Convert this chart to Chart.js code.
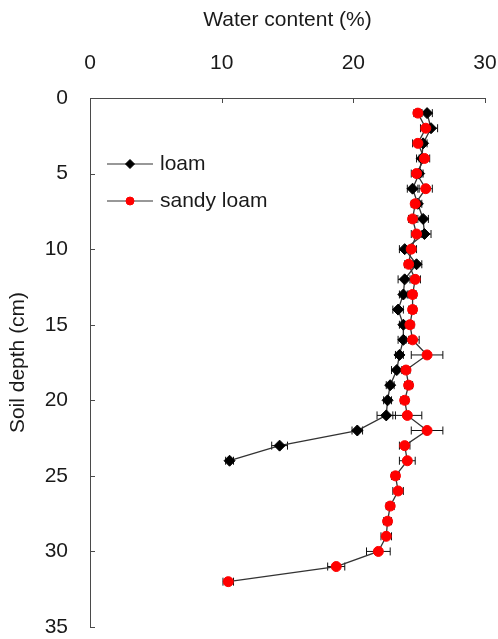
<!DOCTYPE html>
<html>
<head>
<meta charset="utf-8">
<script src="https://cdn.jsdelivr.net/npm/chart.js@4.4.0/dist/chart.umd.min.js"></script>
<style>
  html, body { margin: 0; padding: 0; background: #fff; overflow: hidden; }
  canvas { display: block; }
</style>
</head>
<body>
<canvas id="depthChart" width="498" height="639"></canvas>
<script>
// soil depth (cm) for each sampled layer
const loamDepth = [1, 2, 3, 4, 5, 6, 7, 8, 9, 10, 11, 12, 13, 14, 15, 16, 17, 18, 19, 20, 21, 22, 23, 24];
const loamWater = [25.6, 25.9, 25.3, 25.2, 25.0, 24.5, 24.9, 25.3, 25.4, 23.9, 24.8, 23.9, 23.8, 23.4, 23.8, 23.8, 23.5, 23.3, 22.8, 22.6, 22.5, 20.3, 14.4, 10.6];
const loamErr = [0.4, 0.5, 0.3, 0.4, 0.3, 0.4, 0.3, 0.4, 0.5, 0.4, 0.4, 0.5, 0.3, 0.4, 0.3, 0.4, 0.3, 0.4, 0.3, 0.3, 0.7, 0.4, 0.6, 0.3];

const sandyDepth = [1, 2, 3, 4, 5, 6, 7, 8, 9, 10, 11, 12, 13, 14, 15, 16, 17, 18, 19, 20, 21, 22, 23, 24, 25, 26, 27, 28, 29, 30, 31, 32];
const sandyWater = [24.9, 25.5, 24.9, 25.4, 24.8, 25.5, 24.7, 24.5, 24.8, 24.4, 24.2, 24.7, 24.5, 24.5, 24.3, 24.5, 25.6, 24.0, 24.2, 23.9, 24.1, 25.6, 23.9, 24.1, 23.2, 23.4, 22.8, 22.6, 22.5, 21.9, 18.7, 10.5];
const sandyErr = [0.3, 0.4, 0.4, 0.4, 0.4, 0.5, 0.3, 0.3, 0.4, 0.4, 0.3, 0.4, 0.3, 0.3, 0.3, 0.5, 1.2, 0.3, 0.3, 0.3, 1.1, 1.2, 0.4, 0.6, 0.3, 0.4, 0.3, 0.3, 0.4, 0.9, 0.65, 0.4];

const xTicks = [0, 10, 20, 30];
const yTicks = [0, 5, 10, 15, 20, 25, 30, 35];

const FONT = "'Liberation Sans', Arial, sans-serif";
const FONT_SIZE = 21;
const TEXT_COLOR = '#1a1a1a';
const AXIS_COLOR = '#4a4a4a';

function toPoints(xs, ys, errs) {
  return xs.map((x, i) => ({ x: x, y: ys[i], err: errs[i] }));
}

// horizontal error bars, drawn under the markers
const errorBars = {
  id: 'errorBars',
  beforeDatasetDraw(chart, args) {
    const meta = chart.getDatasetMeta(args.index);
    const ds = chart.data.datasets[args.index];
    const xs = chart.scales.x;
    const ctx = chart.ctx;
    ctx.save();
    ctx.strokeStyle = '#111';
    ctx.lineWidth = 1;
    meta.data.forEach((pt, i) => {
      const p = ds.data[i];
      const x1 = xs.getPixelForValue(p.x - p.err);
      const x2 = xs.getPixelForValue(p.x + p.err);
      const y = pt.y;
      ctx.beginPath();
      ctx.moveTo(x1, y); ctx.lineTo(x2, y);
      ctx.moveTo(x1, y - 4); ctx.lineTo(x1, y + 4);
      ctx.moveTo(x2, y - 4); ctx.lineTo(x2, y + 4);
      ctx.stroke();
    });
    ctx.restore();
  }
};

// tick marks point into the plot, plus the legend in the upper left
const extras = {
  id: 'extras',
  afterDraw(chart) {
    const ctx = chart.ctx;
    const xs = chart.scales.x, ys = chart.scales.y;
    const area = chart.chartArea;
    ctx.save();
    ctx.strokeStyle = AXIS_COLOR;
    ctx.lineWidth = 1;
    ctx.beginPath();
    xTicks.forEach(v => {
      if (v === 0) return;
      const px = Math.round(xs.getPixelForValue(v)) + 0.5;
      ctx.moveTo(px, area.top); ctx.lineTo(px, area.top + 5);
    });
    yTicks.forEach(v => {
      if (v === 0) return;
      const py = Math.round(ys.getPixelForValue(v)) + 0.5;
      ctx.moveTo(area.left, py); ctx.lineTo(area.left + 5, py);
    });
    ctx.stroke();

    // legend
    const items = [
      { label: 'loam', ds: chart.data.datasets[0], dy: 66 },
      { label: 'sandy loam', ds: chart.data.datasets[1], dy: 103 }
    ];
    items.forEach(it => {
      const y = area.top + it.dy;
      const x0 = area.left + 17, x1 = area.left + 63;
      ctx.strokeStyle = '#333';
      ctx.lineWidth = 1.2;
      ctx.beginPath();
      ctx.moveTo(x0, y); ctx.lineTo(x1, y);
      ctx.stroke();
      ctx.fillStyle = it.ds.pointBackgroundColor;
      ctx.strokeStyle = it.ds.pointBorderColor;
      ctx.lineWidth = 1;
      Chart.helpers.drawPoint(ctx, {
        pointStyle: it.ds.pointStyle,
        radius: it.ds.pointRadius - 1,
        borderWidth: 1
      }, (x0 + x1) / 2, y);
      ctx.fillStyle = TEXT_COLOR;
      ctx.font = FONT_SIZE + 'px ' + FONT;
      ctx.textBaseline = 'middle';
      ctx.textAlign = 'left';
      ctx.fillText(it.label, x1 + 7, y);
    });
    ctx.restore();
  }
};

new Chart(document.getElementById('depthChart'), {
  type: 'scatter',
  data: {
    datasets: [
      {
        label: 'loam',
        data: toPoints(loamWater, loamDepth, loamErr),
        showLine: true,
        borderColor: '#333',
        borderWidth: 1.3,
        pointStyle: 'rectRot',
        pointRadius: 5.5,
        pointBackgroundColor: '#000',
        pointBorderColor: '#000',
        pointBorderWidth: 1,
        order: 1
      },
      {
        label: 'sandy loam',
        data: toPoints(sandyWater, sandyDepth, sandyErr),
        showLine: true,
        borderColor: '#333',
        borderWidth: 1.3,
        pointStyle: 'circle',
        pointRadius: 5,
        pointBackgroundColor: '#ff0000',
        pointBorderColor: '#ff0000',
        pointBorderWidth: 1,
        order: 0
      }
    ]
  },
  options: {
    responsive: false,
    animation: false,
    layout: { padding: { top: 0, right: 13, bottom: 12, left: 0 } },
    plugins: {
      legend: { display: false },
      tooltip: { enabled: false }
    },
    scales: {
      x: {
        type: 'linear',
        position: 'top',
        min: 0,
        max: 30,
        afterBuildTicks: (axis) => { axis.ticks = xTicks.map(v => ({ value: v })); },
        afterFit: (axis) => {
          axis.height = 98;
          axis.paddingLeft = 0;
          axis.paddingRight = 0;
        },
        grid: { display: true, drawOnChartArea: false, drawTicks: false },
        border: { display: true, color: AXIS_COLOR, width: 1 },
        ticks: { color: TEXT_COLOR, font: { family: FONT, size: FONT_SIZE }, padding: 22 },
        title: {
          display: true,
          text: 'Water content (%)',
          color: TEXT_COLOR,
          font: { family: FONT, size: FONT_SIZE },
          padding: { top: 8, bottom: 0 }
        }
      },
      y: {
        type: 'linear',
        reverse: true,
        min: 0,
        max: 35,
        afterBuildTicks: (axis) => { axis.ticks = yTicks.map(v => ({ value: v })); },
        afterFit: (axis) => {
          axis.width = 90;
          axis.paddingTop = 0;
          axis.paddingBottom = 0;
        },
        grid: { display: true, drawOnChartArea: false, drawTicks: false },
        border: { display: true, color: AXIS_COLOR, width: 1 },
        ticks: { color: TEXT_COLOR, font: { family: FONT, size: FONT_SIZE }, padding: 22 },
        title: {
          display: true,
          text: 'Soil depth (cm)',
          color: TEXT_COLOR,
          font: { family: FONT, size: FONT_SIZE },
          padding: { top: 6, bottom: 0 }
        }
      }
    }
  },
  plugins: [errorBars, extras]
});
</script>
</body>
</html>
